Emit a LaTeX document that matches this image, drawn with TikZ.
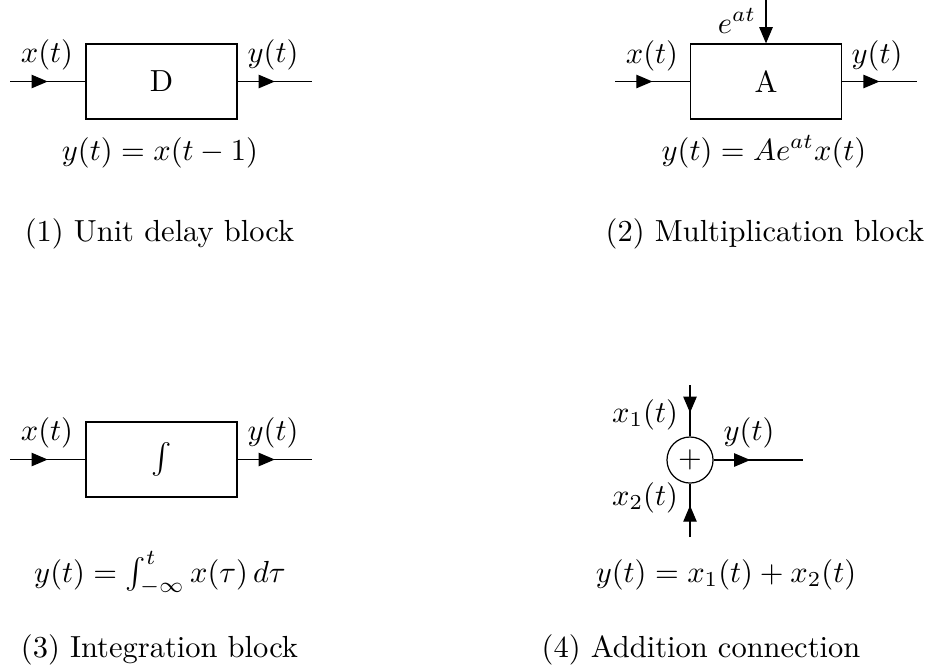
\documentclass[tikz,border=0pt]{standalone}
\usetikzlibrary{arrows.meta,decorations.markings}
\tikzset{
  blk/.style={draw,inner sep=0pt,minimum width=49.5pt,minimum height=24.6pt},
  sumnode/.style={draw,circle,inner sep=0pt,minimum size=15.1pt},
  lbl/.style={anchor=base,inner sep=0pt},
  tri/.style={-{Triangle[length=5.3pt,width=4.4pt]}},
  midarrow/.style={postaction={decorate},decoration={markings,mark=at position #1 with {\arrow{Triangle[length=5.3pt,width=4.4pt]}}}}
}
\begin{document}
\begin{tikzpicture}[x=0.3279pt,y=-0.3279pt]
\useasboundingbox (0,0) rectangle (930,665);
% block 1
\node[blk] (b1) at (161.5,81.5) {D};
\coordinate (i1) at (10,81.5);
\coordinate (o1) at (312,81.5);
\draw[midarrow=0.5] (i1) -- (b1.west);
\draw[midarrow=0.5] (b1.east) -- (o1);
\node[lbl] (lx1) at (47,62) {$x(t)$};
\node[lbl] (ly1) at (273,62) {$y(t)$};
\node[lbl] (eq1) at (160,160) {$y(t) = x(t-1)$};
\node[lbl] (c1) at (159.5,241) {(1) Unit delay block};
% block 2
\node[blk] (b2) at (766,81.5) {A};
\coordinate (i2) at (615,81.5);
\coordinate (o2) at (917,81.5);
\coordinate (t2) at (766,0);
\draw[midarrow=0.5] (i2) -- (b2.west);
\draw[midarrow=0.5] (b2.east) -- (o2);
\draw[tri] (t2) -- (b2.north);
\node[lbl] (lx2) at (652,63) {$x(t)$};
\node[lbl] (ly2) at (877,63) {$y(t)$};
\node[lbl] (le2) at (737,33) {$e^{at}$};
\node[lbl] (eq2) at (764,160) {$y(t) = Ae^{at}x(t)$};
\node[lbl] (c2) at (765,241) {(2) Multiplication block};
% block 3
\node[blk] (b3) at (161.5,459.5) {$\int$};
\coordinate (i3) at (10,459.5);
\coordinate (o3) at (312,459.5);
\draw[midarrow=0.5] (i3) -- (b3.west);
\draw[midarrow=0.5] (b3.east) -- (o3);
\node[lbl] (lx3) at (47,440) {$x(t)$};
\node[lbl] (ly3) at (273,440) {$y(t)$};
\node[lbl] (eq3) at (160,582) {$y(t) = \int_{-\infty}^{t} x(\tau)\,d\tau$};
\node[lbl] (c3) at (159.5,657) {(3) Integration block};
% block 4
\node[sumnode] (s4) at (690,460) {$+$};
\coordinate (t4) at (690,385);
\coordinate (d4) at (690,537);
\coordinate (o4) at (803,460);
\draw[midarrow=0.54] (t4) -- (s4.north);
\draw[midarrow=0.59] (d4) -- (s4.south);
\draw[midarrow=0.41] (s4.east) -- (o4);
\node[lbl] (lx41) at (645,422) {$x_1(t)$};
\node[lbl] (lx42) at (645,505) {$x_2(t)$};
\node[lbl] (ly4) at (749,440) {$y(t)$};
\node[lbl] (eq4) at (726,582) {$y(t) = x_1(t) + x_2(t)$};
\node[lbl] (c4) at (701,657) {(4) Addition connection};
\end{tikzpicture}
\end{document}
